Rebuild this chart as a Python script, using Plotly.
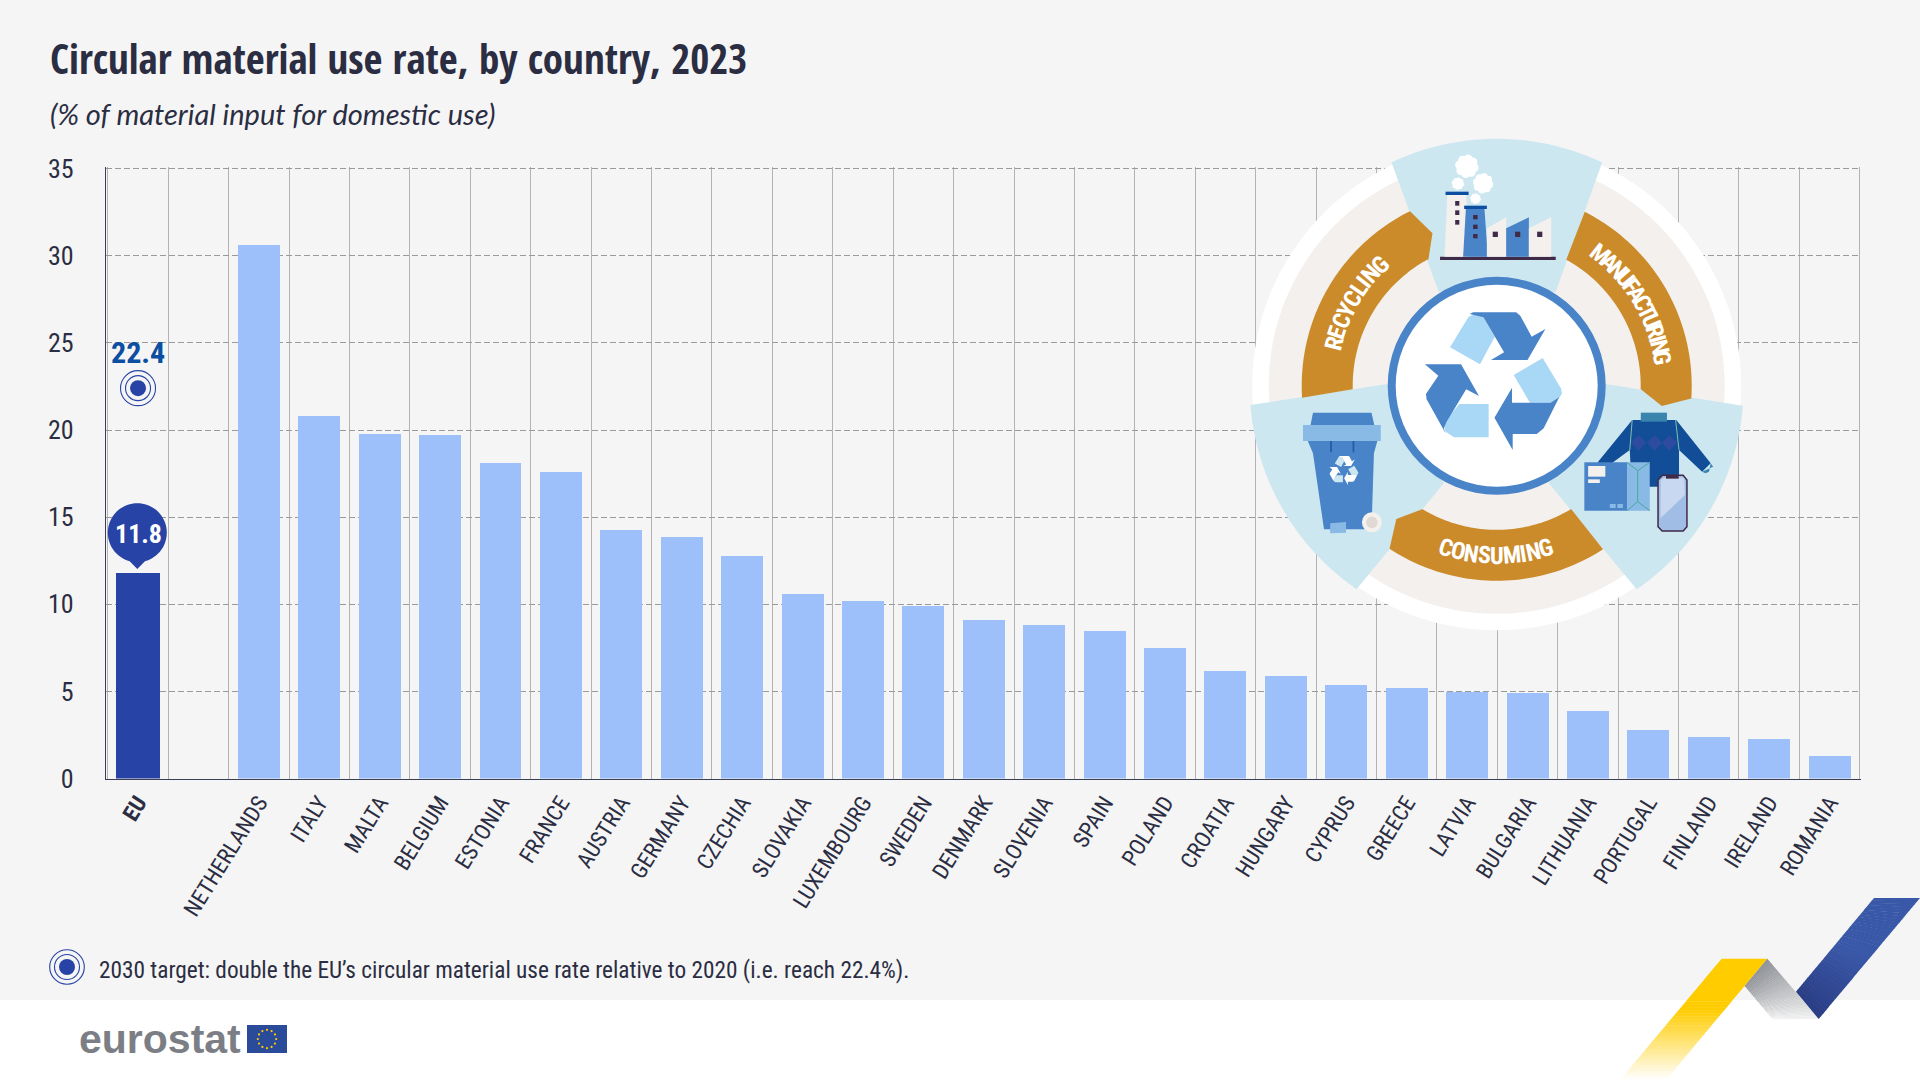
import math
import plotly.graph_objects as go

# ---------- data ----------
categories = ["EU", " ", "NETHERLANDS", "ITALY", "MALTA", "BELGIUM", "ESTONIA", "FRANCE", "AUSTRIA", "GERMANY",
              "CZECHIA", "SLOVAKIA", "LUXEMBOURG", "SWEDEN", "DENMARK", "SLOVENIA", "SPAIN", "POLAND", "CROATIA",
              "HUNGARY", "CYPRUS", "GREECE", "LATVIA", "BULGARIA", "LITHUANIA", "PORTUGAL", "FINLAND", "IRELAND",
              "ROMANIA"]
values = [11.8, None, 30.6, 20.8, 19.8, 19.7, 18.1, 17.6, 14.3, 13.9, 12.8, 10.6, 10.2, 9.9, 9.1, 8.8, 8.5, 7.5,
          6.2, 5.9, 5.4, 5.2, 5.0, 4.9, 3.9, 2.8, 2.4, 2.3, 1.3]
target_value = 22.4
y_ticks = [0, 5, 10, 15, 20, 25, 30, 35]
title_text = "Circular material use rate, by country, 2023"
subtitle_text = "(% of material input for domestic use)"
note_text = "2030 target: double the EU’s circular material use rate relative to 2020 (i.e. reach 22.4%)."

# ---------- style ----------
W, H = 1920, 1080
NARROW = "Roboto Condensed"
HEAVY = "Open Sans Condensed"
INK = "#2b2d42"
EU_BLUE = "#2743a6"
BAR = "#9dc0fa"
MID = "#4a84c8"
PALE = "#a8d8f5"
SKY = "#cde7f0"
SOFT = "#89bae6"
BEIGE = "#f3f0ed"
ORANGE = "#cb8b2a"
NAVY = "#0b4ea2"
DARK = "#3f2a48"
PANEL = "#f5f5f5"
CX, CY = 1496.7, 385.8

shapes = []
annotations = []


def P(p):
    return f"{p[0] / W:.5f} {1 - p[1] / H:.5f}"


def Z(zx, zy):
    return (1220 + zx / 2.904, 120 + zy / 3)


def poly(points, fill, layer="above", line=None, lw=0):
    path = "M " + " L ".join(P(p) for p in points) + " Z"
    shapes.append(dict(type="path", xref="paper", yref="paper", path=path, fillcolor=fill, layer=layer,
                       line=dict(width=lw, color=line or fill)))


def zpoly(points, fill, **kw):
    poly([Z(*p) for p in points], fill, **kw)


def zline(points, color, lw=1):
    path = "M " + " L ".join(P(Z(*p)) for p in points)
    shapes.append(dict(type="path", xref="paper", yref="paper", path=path, layer="above",
                       line=dict(width=lw, color=color)))


def zrect(x0, y0, x1, y1, fill):
    zpoly([(x0, y0), (x1, y0), (x1, y1), (x0, y1)], fill)


def circle(cx, cy, r, fill="rgba(0,0,0,0)", line=None, lw=0):
    shapes.append(dict(type="circle", xref="paper", yref="paper", x0=(cx - r) / W, x1=(cx + r) / W,
                       y0=1 - (cy + r) / H, y1=1 - (cy - r) / H, fillcolor=fill, layer="above",
                       line=dict(width=lw, color=line or "rgba(0,0,0,0)")))


def ang(zx, zy):
    x, y = Z(zx, zy)
    return math.degrees(math.atan2(x - CX, -(y - CY)))


def pol(r, a):
    t = math.radians(a)
    return (CX + r * math.sin(t), CY - r * math.cos(t))


def arc(r, a0, a1, n=48):
    d = ((a1 - a0 + 180) % 360) - 180
    return [pol(r, a0 + d * i / n) for i in range(n + 1)]


def ribbon(a, b, c, d, colour, n=40):
    # a-b is one end, d-c the other; colour(t) for t in 0..1
    for i in range(n):
        t0, t1 = i / n, min((i + 1.15) / n, 1)
        p = lambda u, v, t: (u[0] + (v[0] - u[0]) * t, u[1] + (v[1] - u[1]) * t)
        poly([p(a, d, t0), p(b, c, t0), p(b, c, t1), p(a, d, t1)], colour((t0 + t1) / 2))


def mix(c0, c1, t):
    t = max(0, min(1, t))
    return "rgb(" + ",".join(str(round(u + (v - u) * t)) for u, v in zip(c0, c1)) + ")"


def target_icon(cx, cy):
    circle(cx, cy, 17.3, line=EU_BLUE, lw=1.1)
    circle(cx, cy, 12.5, line=EU_BLUE, lw=1.1)
    circle(cx, cy, 8, fill=EU_BLUE)


def cloud(zx, zy, zw):
    cx, cy = Z(zx, zy)
    r = zw / 2 / 2.95
    circle(cx, cy, r * 0.72, fill="#ffffff")
    for i in range(8):
        t = math.radians(i * 45 + 10)
        circle(cx + 0.62 * r * math.cos(t), cy + 0.62 * r * math.sin(t), r * 0.38, fill="#ffffff")


def text(x, y, s, size, color=INK, family=NARROW, anchor="left", angle=0, bold=False, italic=False):
    if bold:
        s = f"<b>{s}</b>"
    if italic:
        s = f"<i>{s}</i>"
    annotations.append(dict(xref="paper", yref="paper", x=x / W, y=1 - y / H, text=s, showarrow=False,
                            xanchor=anchor, yanchor="middle", textangle=angle, borderpad=0, borderwidth=0,
                            font=dict(size=size, color=color, family=family)))


# ---------- page background ----------
shapes.append(dict(type="rect", xref="paper", yref="paper", x0=0, x1=1, y0=1 - 1000 / H, y1=1, layer="below",
                   fillcolor=PANEL, line=dict(width=0)))
# covers the first band boundary, which would otherwise sit right against the y axis line
shapes.append(dict(type="rect", xref="paper", yref="paper", x0=106.8 / W, x1=109.2 / W, y0=1 - 778 / H,
                   y1=1 - 166.8 / H, layer="between", fillcolor=PANEL, line=dict(width=0)))

# ---------- ribbons ----------
R = lambda zx, zy: (1600 + zx / 3, 880 + zy / 3)
ribbon(R(365, 236), R(502, 236), R(198, 600), R(60, 600),
       lambda t: mix((255, 204, 0), (255, 255, 255), (t - 0.42) / 0.58))
ribbon(R(502, 236), R(434, 318), R(518, 418), R(656, 417),
       lambda t: mix((141, 144, 150), (242, 242, 242), t))
ribbon(R(822, 54), R(960, 54), R(656, 417), R(588, 335),
       lambda t: mix((58, 88, 168), (42, 61, 133), (t - 0.5) / 0.5))

# ---------- infographic: rings ----------
circle(CX, CY, 244.5, fill="#ffffff")
circle(CX, CY, 228, fill=BEIGE)


def sector(c0, inner0, inner1, c1, r=247):
    pts = arc(r, ang(*c0), ang(*c1))
    poly(pts + [Z(*inner1), Z(*inner0)], SKY)


sector((498, 127), (635, 515), (975, 515), (1110, 127))
sector((92, 855), (485, 792), (650, 1090), (398, 1405))
sector((1517, 857), (1120, 792), (955, 1090), (1208, 1405))

# orange bands
poly(arc(195, ang(243, 833), ang(555, 280)) + [Z(617, 340), Z(605, 420)] + arc(144, ang(605, 420), ang(388, 808)),
     ORANGE)
poly(arc(195, ang(1057, 280), ang(1365, 835)) + [Z(1283, 858), Z(1222, 808)] + arc(144, ang(1222, 808), ang(1005, 420)),
     ORANGE)
poly(arc(195, ang(1112, 1287), ang(493, 1285)) + [Z(512, 1197), Z(587, 1168)] + arc(144, ang(587, 1168), ang(1020, 1168)),
     ORANGE)

# centre disc
circle(CX, CY, 109, fill=MID)
circle(CX, CY, 101, fill="#ffffff")

# recycling symbol
DARK_ARROWS = [
    [(725, 582), (735, 577), (860, 577), (872, 587), (905, 650), (945, 627), (893, 720), (787, 720), (825, 697), (765, 592)],
    [(595, 733), (700, 733), (752, 828), (715, 808), (658, 905), (650, 925), (655, 940), (600, 838), (598, 822), (634, 767)],
    [(850, 990), (797, 893), (848, 803), (848, 848), (960, 848), (985, 832), (993, 815), (940, 925), (920, 942), (850, 942)],
]
LIGHT_ARROWS = [
    [(668, 682), (722, 590), (745, 580), (765, 592), (798, 650), (755, 733)],
    [(695, 852), (780, 852), (780, 952), (680, 952), (655, 935), (650, 915), (660, 895)],
    [(853, 765), (937, 714), (990, 805), (993, 820), (985, 835), (960, 848), (900, 848)],
]
for a in LIGHT_ARROWS:
    zpoly(a, PALE)
for a in DARK_ARROWS:
    zpoly(a, MID)

# factory
zrect(639, 410, 975, 420, DARK)
zpoly([(660, 225), (715, 225), (722, 410), (652, 410)], BEIGE)
zrect(655, 215, 722, 225, NAVY)
for y in (243, 271, 300):
    zrect(683, y, 695, y + 14, DARK)
zpoly([(714, 267), (768, 267), (778, 410), (706, 410)], MID)
zrect(709, 257, 775, 267, NAVY)
for y in (285, 314, 342):
    zrect(735, y, 748, y + 13, DARK)
zpoly([(775, 325), (831, 292), (831, 410), (775, 410)], BEIGE)
zpoly([(831, 325), (897, 292), (897, 410), (831, 410)], MID)
zpoly([(897, 325), (962, 292), (962, 410), (897, 410)], BEIGE)
for x in (792, 857, 921):
    zrect(x, 335, x + 15, 351, DARK)
cloud(717, 139, 70)
cloud(691, 191, 37)
cloud(764, 190, 60)
cloud(742, 236, 32)

# bin
zpoly([(270, 878), (440, 878), (448, 915), (263, 915)], MID)
zpoly([(255, 963), (457, 963), (447, 1000), (440, 1228), (302, 1228), (270, 1000)], MID)
zrect(241, 915, 467, 963, SOFT)
zrect(320, 963, 325, 997, "#1d5fa8")
zrect(385, 963, 390, 997, "#1d5fa8")
zpoly([(320, 1210), (366, 1206), (366, 1238), (320, 1240)], SOFT)
c = Z(441, 1207)
circle(c[0], c[1], 10, fill=BEIGE)
circle(c[0], c[1], 5.8, fill="#e0d8d2")
mini = lambda p: (360 + (p[0] - 795) * 0.21, 1052 + (p[1] - 785) * 0.21)
for a in LIGHT_ARROWS:
    zpoly([mini(p) for p in a], SKY)
for a in DARK_ARROWS:
    zpoly([mini(p) for p in a], "#ffffff")

# sweater, box, phone
zpoly([(1197, 900), (1325, 900), (1425, 1030), (1400, 1055), (1333, 990), (1333, 1100), (1195, 1100), (1190, 990),
       (1098, 1060), (1098, 1025)], "#124e97")
zpoly([(1222, 878), (1298, 878), (1298, 905), (1222, 905)], "#3a85ad")
zpoly([(1400, 1055), (1432, 1040), (1425, 1030), (1420, 1055), (1410, 1060)], "#3a85ad")
for dx in (1215, 1262, 1305):
    zpoly([(dx - 22, 968), (dx, 945), (dx + 22, 968), (dx, 992)], "#2d4c9f")
zline([(1197, 900), (1190, 990)], "#7fc0b0", 1)
zline([(1323, 900), (1333, 990)], "#7fc0b0", 1)
zrect(1058, 1027, 1182, 1172, MID)
zrect(1182, 1027, 1248, 1172, SOFT)
zrect(1069, 1038, 1119, 1070, BEIGE)
zrect(1069, 1078, 1103, 1089, BEIGE)
zrect(1132, 1152, 1149, 1164, SOFT)
zrect(1154, 1152, 1170, 1164, SOFT)
zline([(1182, 1027), (1213, 1052), (1248, 1027)], "#4aa69c", 1)
zline([(1213, 1052), (1213, 1145)], "#4aa69c", 1)
zline([(1182, 1172), (1213, 1145), (1248, 1172)], "#4aa69c", 1)
zpoly([(1285, 1066), (1345, 1066), (1356, 1080), (1356, 1220), (1345, 1233), (1284, 1233), (1272, 1220), (1272, 1080)],
      "#a0bde6", line=DARK, lw=1.5)
zpoly([(1280, 1080), (1290, 1073), (1348, 1073), (1350, 1125), (1279, 1195)], "#c8d8f0")
zrect(1295, 1066, 1332, 1076, DARK)

# curved labels, one rotated letter at a time
LETTER = {"I": 0.55, "M": 1.35, "N": 1.1, "G": 1.05, "E": 0.9, "Y": 0.95, "L": 0.85, "A": 1.05, "U": 1.05, "F": 0.85,
          "T": 0.9, "O": 1.05}


def arc_text(word, start, end, r, size):
    w = [LETTER.get(ch, 1.0) for ch in word]
    centres = [0.0]
    for i in range(1, len(w)):
        centres.append(centres[-1] + (w[i - 1] + w[i]) / 2)
    for ch, pos in zip(word, centres):
        a = start + (end - start) * pos / centres[-1]
        x, y = pol(r, a)
        rot = a if -90 < a < 90 else a - 180
        text(x, y, ch, size, color="#ffffff", anchor="center", angle=rot, bold=True)


arc_text("RECYCLING", -75.5, -43.8, 168, 24)
arc_text("MANUFACTURING", 38, 80.5, 167, 24)
arc_text("CONSUMING", 197.4, 163, 170, 24)

# ---------- EU value bubble ----------
bx, by, br = 137.3, 532.7, 29.5
bub = [(bx + br * math.sin(math.radians(a)), by - br * math.cos(math.radians(a))) for a in range(195, 526, 5)]
poly([(bx, 569)] + bub, EU_BLUE)

# ---------- titles and notes ----------
text(50, 58, title_text, 41, family=HEAVY)
text(50, 113, subtitle_text, 29, family="Lato", italic=True)
target_icon(67, 967)
text(99, 970, note_text, 23.3)

# ---------- logo ----------
text(79, 1039, "eurostat", 41, color="#7b7f85", family="Liberation Sans", bold=True)
poly([(247, 1025), (287, 1025), (287, 1053), (247, 1053)], "#2a4a9a")
for i in range(12):
    t = math.radians(i * 30)
    circle(267 + 9.2 * math.sin(t), 1039 - 9.2 * math.cos(t), 1.1, fill="#ffcc00")

# ---------- data-tied labels ----------
annotations.append(dict(x=categories[0], y=values[0], xref="x", yref="y", text="<b>%.1f</b>" % values[0],
                        showarrow=False, yshift=39, font=dict(size=26, color="#ffffff", family=NARROW)))
annotations.append(dict(x=categories[0], y=target_value, xref="x", yref="y", text="<b>%.1f</b>" % target_value,
                        showarrow=False, yshift=36, font=dict(size=30, color=NAVY, family=NARROW)))

# ---------- figure ----------
fig = go.Figure()
fig.add_trace(go.Bar(x=categories, y=values,
                     marker=dict(color=[EU_BLUE if c == "EU" else BAR for c in categories], line=dict(width=0)),
                     width=[0.73 if c == "EU" else 0.695 for c in categories], hoverinfo="x+y"))
for sym, size, lw in (("circle-open", 35, 1.1), ("circle-open", 25, 1.1), ("circle", 16, 0)):
    fig.add_trace(go.Scatter(x=[categories[0]], y=[target_value], mode="markers", hoverinfo="y",
                             marker=dict(symbol=sym, size=size, color=EU_BLUE, line=dict(width=lw, color=EU_BLUE))))

fig.update_layout(
    width=W, height=H, autosize=False, margin=dict(l=0, r=0, t=0, b=0, pad=0),
    paper_bgcolor="#ffffff", plot_bgcolor="rgba(0,0,0,0)", showlegend=False, bargap=0,
    shapes=shapes, annotations=annotations,
    font=dict(family=NARROW, color=INK),
    xaxis=dict(domain=[106 / W, 1861 / W], type="category", categoryorder="array", categoryarray=categories,
               range=[-0.53, 28.52], tickmode="array", tickvals=categories, automargin=False,
               ticktext=["<b>EU</b>" if c == "EU" else c for c in categories],
               tickson="boundaries", ticks="", tickangle=-58, tickfont=dict(size=22.5, color=INK, family=NARROW),
               showgrid=True, gridcolor="#b3b3b3", gridwidth=1.4, showline=True, linecolor="#3a3f55", linewidth=1.2,
               ticklabelstandoff=1, zeroline=False),
    yaxis=dict(domain=[1 - 778.6 / H, 1 - 166.8 / H], range=[0, 35.1], tickmode="array", tickvals=y_ticks,
               ticks="", tickfont=dict(size=26, color=INK, family=NARROW), automargin=False,
               showgrid=True, griddash="6px,3px", gridcolor="#9a9a9a", gridwidth=1, showline=True,
               linecolor="#3a3f55", linewidth=1.2, ticklabelstandoff=26, zeroline=False),
)
fig.write_html("out.html", config={"displayModeBar": False}, post_script="document.body.style.margin='0';")
